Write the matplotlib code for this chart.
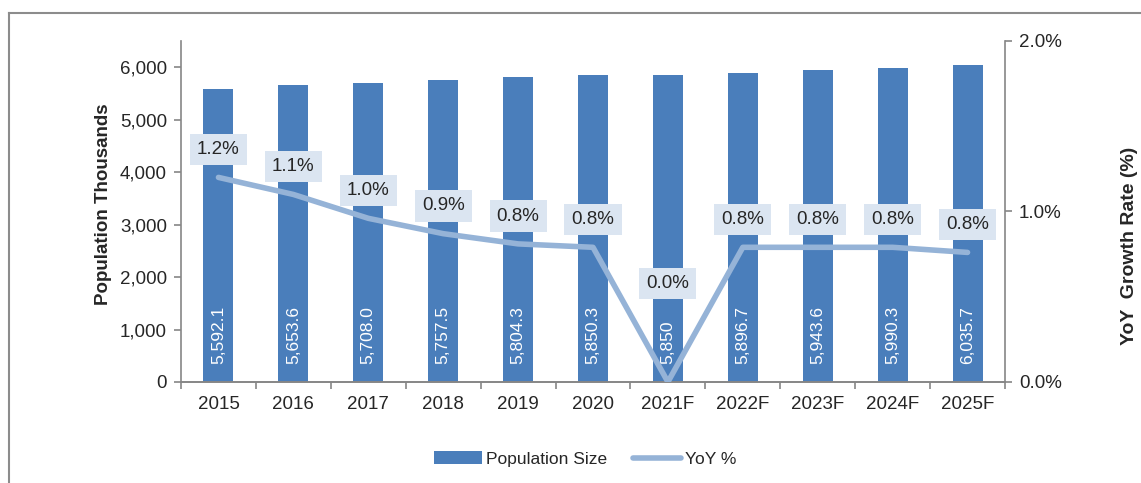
import numpy as np
import matplotlib.pyplot as plt
from matplotlib.lines import Line2D
from matplotlib.patches import Patch

plt.rcParams['font.family'] = ['Liberation Sans', 'DejaVu Sans']

# Data
years = ["2015", "2016", "2017", "2018", "2019", "2020",
         "2021F", "2022F", "2023F", "2024F", "2025F"]
population = [5592.1, 5653.6, 5708.0, 5757.5, 5804.3, 5850.3,
              5850.0, 5896.7, 5943.6, 5990.3, 6035.7]
pop_labels = ["5,592.1", "5,653.6", "5,708.0", "5,757.5", "5,804.3", "5,850.3",
              "5,850", "5,896.7", "5,943.6", "5,990.3", "6,035.7"]
yoy = [1.20, 1.10, 0.96, 0.87, 0.81, 0.79, 0.0, 0.79, 0.79, 0.79, 0.76]

bar_color = "#4a7ebb"
line_color = "#95b3d7"
text_color = "#262626"
axis_color = "#868686"

fig = plt.figure(figsize=(11.41, 4.83), dpi=100)
ax = fig.add_axes([181 / 1141, 1 - 382 / 483, 824 / 1141, 341 / 483])
ax2 = ax.twinx()

x = np.arange(len(years))
ax.bar(x, population, width=0.4, color=bar_color, zorder=2)
for xi, lab in zip(x, pop_labels):
    ax.annotate(lab, (xi, 0), xytext=(0, 13), textcoords="offset points",
                rotation=90, ha="center", va="bottom", color="white", fontsize=12.5)

ax.set_xlim(-0.5, len(years) - 0.5)
ax.set_ylim(0, 6500)
ax.set_yticks(np.arange(0, 6001, 1000))
ax.set_yticklabels([f"{v:,}" for v in range(0, 6001, 1000)])
ax.set_xticks(x)
ax.set_xticklabels(years)
ax.set_xticks(np.arange(-0.5, len(years), 1), minor=True)
ax.tick_params(axis="x", which="major", length=0, pad=10, labelsize=13.5, colors=text_color)
ax.tick_params(axis="x", which="minor", length=5, color=axis_color, width=1.2)
ax.tick_params(axis="y", length=5, color=axis_color, width=1.2, labelsize=13.5,
               labelcolor=text_color, pad=5)
ax.set_ylabel("Population Thousands", fontsize=13.5, fontweight="bold", color=text_color)
ax.yaxis.set_label_coords(-0.084, 0.52)

ax2.plot(x, yoy, color=line_color, linewidth=4, solid_capstyle="round", zorder=3)
ax2.set_ylim(0, 2.0)
ax2.set_yticks([0, 1, 2])
ax2.set_yticklabels(["0.0%", "1.0%", "2.0%"])
ax2.tick_params(axis="y", length=5, color=axis_color, width=1.2, labelsize=13.5,
                labelcolor=text_color, pad=5)
ax2.set_ylabel("YoY  Growth Rate (%)", fontsize=14, fontweight="bold", color=text_color,
               rotation=90)
ax2.yaxis.set_label_coords(1.141, 0.40)

for xi, v in zip(x, yoy):
    off = 71 if v == 0 else 20
    ax2.annotate(f"{v:.1f}%", (xi, v), xytext=(0, off), textcoords="offset points",
                 ha="center", va="center", fontsize=13.5, color=text_color,
                 bbox=dict(boxstyle="square,pad=0.38", fc="#dbe5f1", ec="none"), zorder=4)

for a in (ax, ax2):
    a.spines["top"].set_visible(False)
    for s in ("left", "right", "bottom"):
        a.spines[s].set_color(axis_color)
        a.spines[s].set_linewidth(1.2)
ax2.spines["left"].set_visible(False)
ax.spines["right"].set_visible(False)
ax2.set_zorder(ax.get_zorder() + 1)
ax2.patch.set_visible(False)

handles = [Patch(facecolor=bar_color, edgecolor="none"),
           Line2D([0], [0], color=line_color, linewidth=4, solid_capstyle="round")]
fig.legend(handles, ["Population Size", "YoY %"], loc="center", ncol=2,
           bbox_to_anchor=(0.513, 1 - 459 / 483), frameon=False, fontsize=12.5,
           handlelength=2.75, columnspacing=1.5, handletextpad=0.25,
           labelcolor=text_color)

# outer frame (only left and top are inside the picture)
fig.add_artist(Line2D([9 / 1141, 9 / 1141], [0, 1 - 13 / 483], color="#8c8c8c",
                      linewidth=1.5, transform=fig.transFigure))
fig.add_artist(Line2D([9 / 1141, 1], [1 - 13 / 483, 1 - 13 / 483], color="#8c8c8c",
                      linewidth=1.5, transform=fig.transFigure))

fig.savefig("out.png", dpi=100)
